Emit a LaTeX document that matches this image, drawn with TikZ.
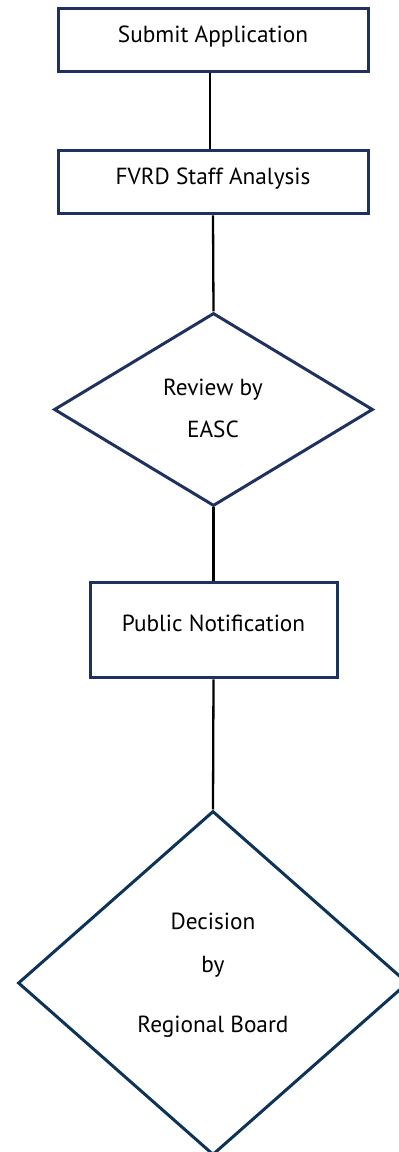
\documentclass[tikz,border=0pt]{standalone}
\usepackage{fontspec}
\setmainfont{PT Sans}
\usetikzlibrary{shapes.geometric}
\definecolor{navyA}{HTML}{1F325F}
\definecolor{navyB}{HTML}{0E3358}
\tikzset{
  stepbox/.style={draw=navyA, line width=3pt, fill=white, inner sep=0pt},
  decbox/.style={diamond, draw=#1, line width=3pt, fill=white, inner sep=0pt},
  conn/.style={draw=black, line width=2.3pt},
  lbl/.style={font=\fontsize{23.3}{26}\selectfont, inner sep=0pt, anchor=base}
}
\begin{document}
\begin{tikzpicture}[x=1pt,y=1pt]
\useasboundingbox (0,0) rectangle (399,1152);
\clip (0,0) rectangle (399,1152);
% nodes
\node[stepbox, minimum width=310pt, minimum height=63pt] (s1) at (213,1111.5) {};
\node[stepbox, minimum width=310pt, minimum height=63pt] (s2) at (213,969.5) {};
\node[decbox=navyA, minimum width=319pt, minimum height=193pt] (d1) at (213.5,742.5) {};
\node[stepbox, minimum width=247pt, minimum height=95pt] (s3) at (213.5,521.5) {};
\node[decbox=navyB, minimum width=390pt, minimum height=344pt] (d2) at (213,169) {};
% connectors
\draw[conn] ([xshift=-3pt]s1.south) -- ([xshift=-3pt]s1.south |- s2.north);
\draw[conn] (s2.south) -- (d1.north);
\draw[conn] (d1.south) -- (s3.north);
\draw[conn] (s3.south) -- (d2.north);
% labels
\node[lbl] (t1) at (213,1109) {Submit Application};
\node[lbl] (t2) at (213,967) {FVRD Staff Analysis};
\node[lbl] (t3) at (213,756) {Review by};
\node[lbl] (t4) at (213,714) {EASC};
\node[lbl] (t5) at (213.5,520) {Public Notification};
\node[lbl] (t6) at (213,222) {Decision};
\node[lbl] (t7) at (213,179) {by};
\node[lbl] (t8) at (213,119) {Regional Board};
\end{tikzpicture}
\end{document}
